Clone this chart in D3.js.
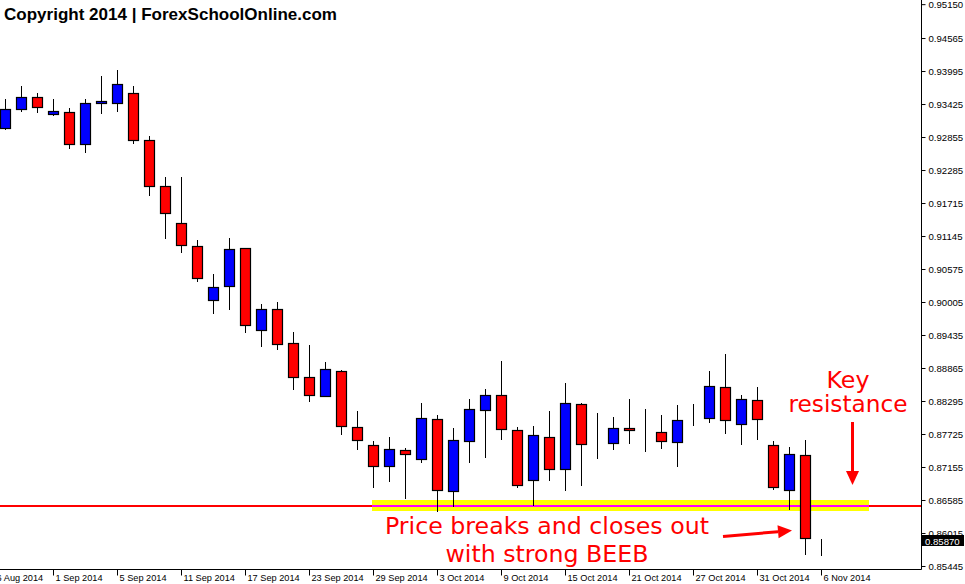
<!DOCTYPE html>
<html>
<head>
<meta charset="utf-8">
<script src="https://cdn.jsdelivr.net/npm/d3@7"></script>
<style>
  html, body { margin: 0; padding: 0; background: #fff; }
  svg { display: block; }
</style>
</head>
<body>
<svg id="chart" width="965" height="584"></svg>
<script>
// ---------------- DATA ----------------
const dates = [
  "2014-08-27","2014-08-28","2014-08-29",
  "2014-09-01","2014-09-02","2014-09-03","2014-09-04","2014-09-05",
  "2014-09-08","2014-09-09","2014-09-10","2014-09-11","2014-09-12",
  "2014-09-15","2014-09-16","2014-09-17","2014-09-18","2014-09-19",
  "2014-09-22","2014-09-23","2014-09-24","2014-09-25","2014-09-26",
  "2014-09-29","2014-09-30","2014-10-01","2014-10-02","2014-10-03",
  "2014-10-06","2014-10-07","2014-10-08","2014-10-09","2014-10-10",
  "2014-10-13","2014-10-14","2014-10-15","2014-10-16","2014-10-17",
  "2014-10-20","2014-10-21","2014-10-22","2014-10-23","2014-10-24",
  "2014-10-27","2014-10-28","2014-10-29","2014-10-30","2014-10-31",
  "2014-11-03","2014-11-04","2014-11-05","2014-11-06"
];
const open = [
  0.93016,0.93334,0.93541,0.93248,0.93282,0.92730,0.93438,0.93438,0.93610,0.92799,
  0.92004,0.91365,0.90968,0.90035,0.90277,0.90933,0.89517,0.89879,0.89292,0.88705,
  0.88376,0.88808,0.87841,0.87530,0.87167,0.87444,0.87288,0.87979,0.86735,0.87599,
  0.88135,0.88394,0.87789,0.86925,0.87668,0.87115,0.88238,0.87523,0.87565,0.87824,
  0.87782,0.87755,0.87582,0.88024,0.87996,0.88532,0.87893,0.88307,0.87530,0.86753,
  0.87357,0.85880
];
const high = [
  0.93512,0.93737,0.93616,0.93512,0.93357,0.93512,0.93909,0.94013,0.93737,0.92873,
  0.92165,0.92165,0.91076,0.90489,0.91111,0.90938,0.89971,0.90005,0.89487,0.89263,
  0.88969,0.88831,0.88122,0.87604,0.87673,0.87483,0.88255,0.88048,0.87824,0.88325,
  0.88497,0.88981,0.87841,0.87858,0.88117,0.88601,0.88255,0.88083,0.88014,0.88325,
  0.88152,0.88048,0.88221,0.88238,0.88813,0.89102,0.88394,0.88532,0.87599,0.87495,
  0.87627,0.85906
];
const low = [
  0.92999,0.93310,0.93293,0.93230,0.92671,0.92602,0.93275,0.93310,0.92757,0.91859,
  0.91116,0.90874,0.90368,0.89821,0.89879,0.89492,0.89251,0.89199,0.88508,0.88300,
  0.88376,0.87730,0.87471,0.86815,0.86918,0.86625,0.87247,0.86395,0.86481,0.87247,
  0.87333,0.87634,0.86805,0.86499,0.86925,0.86753,0.86839,0.87316,0.87461,0.87565,
  0.87437,0.87478,0.87178,0.87872,0.87938,0.87748,0.87547,0.87634,0.86770,0.86435,
  0.85647,0.85630
];
const close = [
  0.93334,0.93541,0.93369,0.93300,0.92730,0.93438,0.93472,0.93766,0.92799,0.92004,
  0.91538,0.90985,0.90415,0.90259,0.90916,0.89603,0.89879,0.89275,0.88705,0.88394,
  0.88843,0.87858,0.87616,0.87167,0.87461,0.87374,0.87996,0.86753,0.87616,0.88152,
  0.88394,0.87806,0.86839,0.87703,0.87115,0.88255,0.87547,0.87523,0.87824,0.87789,
  0.87782,0.87599,0.87962,0.88024,0.88549,0.87962,0.88325,0.87979,0.86805,0.87374,
  0.85924,0.85870
];
// x-axis tick positions (bar index) and labels
const xTickIndex  = [-1, 3, 7, 11, 15, 19, 23, 27, 31, 35, 39, 43, 47, 51];
const xTickLabels = ["26 Aug 2014","1 Sep 2014","5 Sep 2014","11 Sep 2014","17 Sep 2014",
  "23 Sep 2014","29 Sep 2014","3 Oct 2014","9 Oct 2014","15 Oct 2014","21 Oct 2014",
  "27 Oct 2014","31 Oct 2014","6 Nov 2014"];
// y-axis tick labels
const yTicks = [0.95150,0.94565,0.93995,0.93425,0.92855,0.92285,0.91715,0.91145,0.90575,
  0.90005,0.89435,0.88865,0.88295,0.87725,0.87155,0.86585,0.86015,0.85445];
const lastPrice = 0.85870;
const resistanceLevel = 0.86481;
const bandStartIndex = 23, bandEndIndex = 54;

// ---------------- CHART ----------------
const svg = d3.select("#chart");
const plotRight = 921, plotBottom = 569;

const x = d3.scaleLinear().domain([0, 51]).range([5, 821]);
const y = d3.scaleLinear().domain([0.85393, 0.95222]).range([plotBottom, 0]);

const candles = dates.map((d, i) => ({ d, i, o: open[i], h: high[i], l: low[i], c: close[i] }));

// resistance line (red full width), yellow band, magenta line
const ry = Math.round(y(resistanceLevel));
svg.append("line")
  .attr("x1", 0).attr("x2", plotRight)
  .attr("y1", ry).attr("y2", ry)
  .attr("stroke", "#ff0000").attr("stroke-width", 2);
const bx0 = x(bandStartIndex) - 1, bx1 = x(bandEndIndex);
svg.append("rect")
  .attr("x", bx0).attr("y", ry - 6)
  .attr("width", bx1 - bx0).attr("height", 11)
  .attr("fill", "#ffff00");
svg.append("line")
  .attr("x1", bx0).attr("x2", bx1)
  .attr("y1", ry).attr("y2", ry)
  .attr("stroke", "#ff00ff").attr("stroke-width", 2);

// candles
const g = svg.append("g");
candles.forEach(k => {
  const cx = Math.round(x(k.i)) + 0.5;
  g.append("line")
    .attr("x1", cx).attr("x2", cx)
    .attr("y1", Math.round(y(k.h))).attr("y2", Math.round(y(k.l)) + 1)
    .attr("stroke", "#000").attr("stroke-width", 1);
  const top = Math.round(y(Math.max(k.o, k.c))) + 0.5;
  const bot = Math.round(y(Math.min(k.o, k.c))) + 0.5;
  const col = k.c > k.o ? "#0000ff" : (k.c < k.o ? "#ff0000" : "none");
  g.append("rect")
    .attr("x", cx - 5).attr("y", top)
    .attr("width", 10).attr("height", Math.max(0, bot - top))
    .attr("fill", col)
    .attr("stroke", "#000").attr("stroke-width", 1.2);
});

// axes frame
svg.append("line")
  .attr("x1", 0).attr("x2", plotRight + 0.5)
  .attr("y1", plotBottom + 0.5).attr("y2", plotBottom + 0.5)
  .attr("stroke", "#000");
svg.append("line")
  .attr("x1", plotRight + 0.5).attr("x2", plotRight + 0.5)
  .attr("y1", 0).attr("y2", plotBottom + 0.5)
  .attr("stroke", "#000");

// y axis
const yAxis = d3.axisRight(y)
  .tickValues(yTicks)
  .tickFormat(d3.format(".5f"))
  .tickSize(4).tickSizeOuter(0).tickPadding(3);
const ya = svg.append("g")
  .attr("transform", `translate(${plotRight + 0.5},0)`)
  .call(yAxis);
ya.select(".domain").remove();
ya.selectAll("text")
  .attr("font-family", "Liberation Sans, Arial, sans-serif")
  .attr("font-size", "9.6px").attr("fill", "#000");

// x axis
const xAxis = d3.axisBottom(x)
  .tickValues(xTickIndex)
  .tickFormat((d, i) => xTickLabels[i])
  .tickSize(6).tickSizeOuter(0);
const xa = svg.append("g")
  .attr("transform", `translate(0,${plotBottom + 0.5})`)
  .call(xAxis);
xa.select(".domain").remove();
xa.selectAll("text")
  .attr("font-family", "Liberation Sans, Arial, sans-serif")
  .attr("font-size", "9.2px").attr("fill", "#000")
  .attr("text-anchor", "start")
  .attr("x", 2).attr("y", 4.5).attr("dy", "0.71em");

// last price box
const lp = y(lastPrice);
svg.append("rect")
  .attr("x", plotRight + 1).attr("y", Math.round(lp) - 6)
  .attr("width", 42).attr("height", 11)
  .attr("fill", "#000");
svg.append("text")
  .attr("x", plotRight + 4).attr("y", Math.round(lp) + 3.5)
  .attr("font-family", "Liberation Sans, Arial, sans-serif")
  .attr("font-size", "9.6px").attr("fill", "#fff")
  .text(d3.format(".5f")(lastPrice));

// title
svg.append("text")
  .attr("x", 4).attr("y", 20)
  .attr("font-family", "Liberation Sans, Arial, sans-serif")
  .attr("font-weight", "bold").attr("font-size", "17px")
  .attr("textLength", 333).attr("lengthAdjust", "spacingAndGlyphs")
  .attr("fill", "#000")
  .text("Copyright 2014 | ForexSchoolOnline.com");

// annotations
const ann = [
  { t: "Key", x: 848, y: 388, w: 43 },
  { t: "resistance", x: 848, y: 412, w: 119 },
  { t: "Price breaks and closes out", x: 547, y: 534, w: 324 },
  { t: "with strong BEEB", x: 547, y: 562, w: 203 }
];
ann.forEach(a => {
  svg.append("text")
    .attr("x", a.x - a.w / 2).attr("y", a.y)
    .attr("font-family", "DejaVu Sans, Verdana, sans-serif")
    .attr("font-size", "23px").attr("fill", "#ff0000")
    .attr("textLength", a.w).attr("lengthAdjust", "spacingAndGlyphs")
    .text(a.t);
});

// arrows
function arrow(x1, y1, x2, y2) {
  const ang = Math.atan2(y2 - y1, x2 - x1);
  const hl = 14, hw = 6.5;
  const bxp = x2 - hl * Math.cos(ang), byp = y2 - hl * Math.sin(ang);
  svg.append("line")
    .attr("x1", x1).attr("y1", y1).attr("x2", bxp).attr("y2", byp)
    .attr("stroke", "#ff0000").attr("stroke-width", 3);
  const px = -Math.sin(ang) * hw, py = Math.cos(ang) * hw;
  svg.append("path")
    .attr("d", `M${x2},${y2} L${bxp + px},${byp + py} L${bxp - px},${byp - py} Z`)
    .attr("fill", "#ff0000");
}
arrow(852.5, 422, 852.5, 485);
arrow(723, 536.5, 792, 530.5);
</script>
</body>
</html>
